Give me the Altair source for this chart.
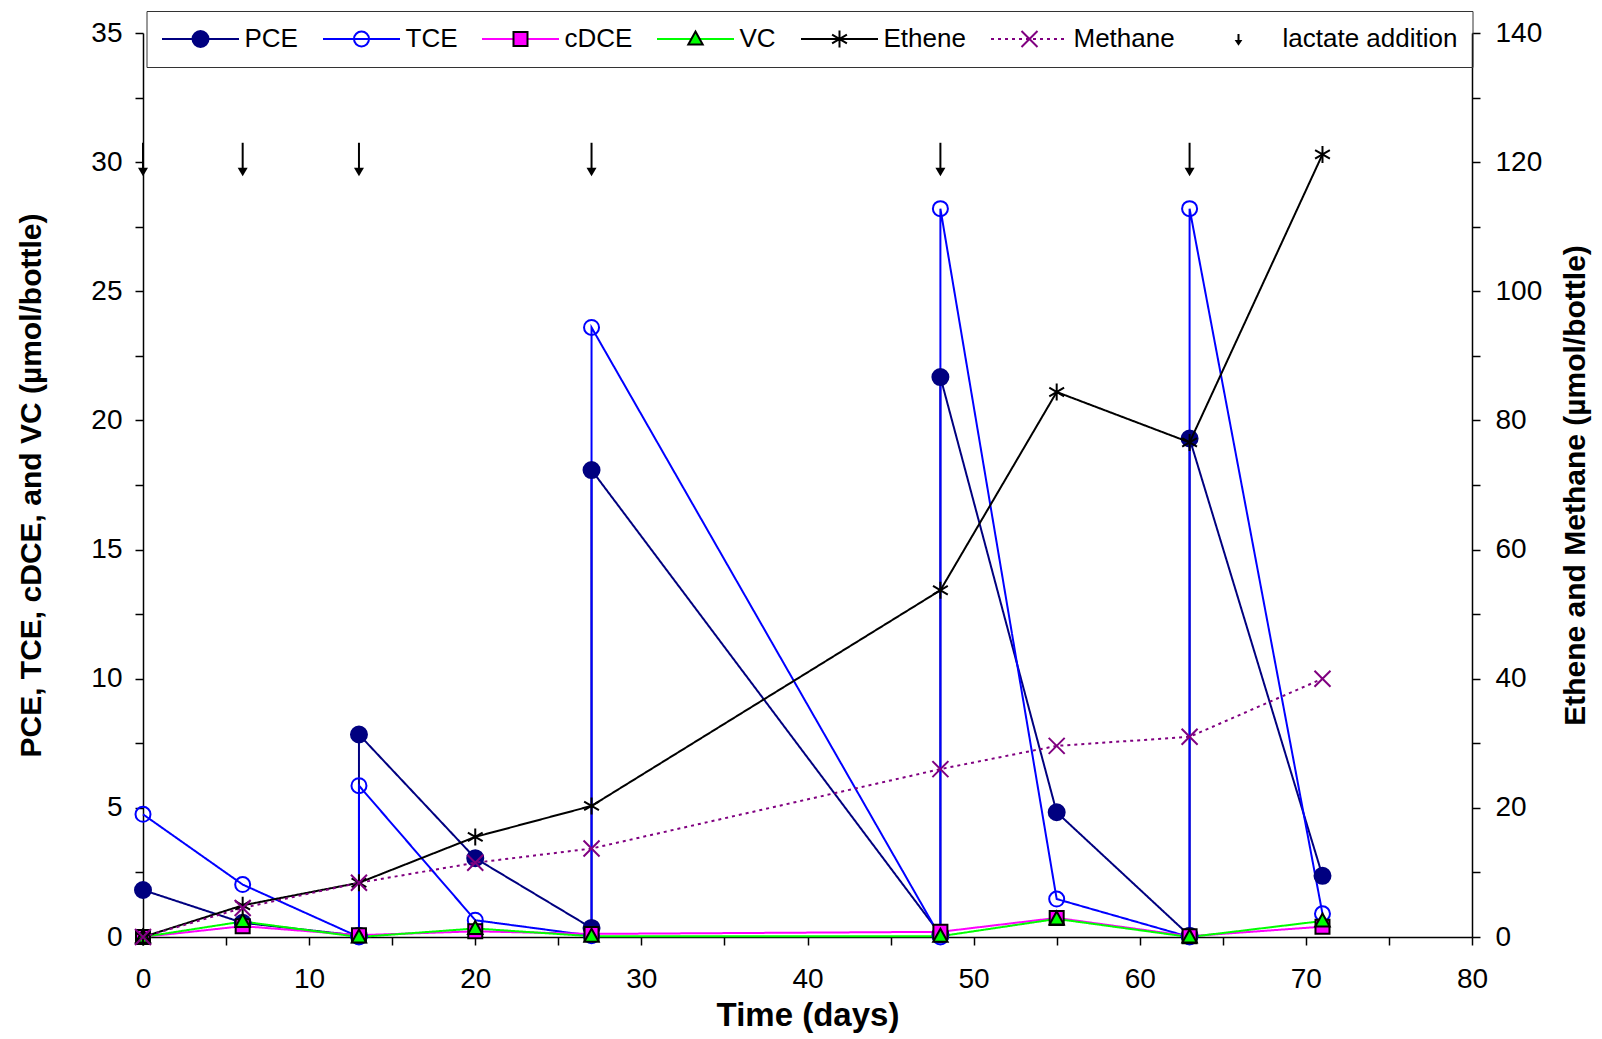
import altair as alt
import pandas as pd

# ---------------- data ----------------
series_names = ["PCE", "TCE", "cDCE", "VC", "Ethene", "Methane", "lactate addition"]

pce_days = [0, 6, 13, 13, 20, 27, 27, 48, 48, 55, 63, 63, 71]
pce_vals = [1.82, 0.55, 0.05, 7.84, 3.05, 0.35, 18.08, 0.1, 21.68, 4.83, 0.05, 19.3, 2.37]

tce_days = [0, 6, 13, 13, 20, 27, 27, 48, 48, 55, 63, 63, 71]
tce_vals = [4.75, 2.03, 0.0, 5.86, 0.65, 0.05, 23.6, 0.0, 28.2, 1.47, 0.0, 28.2, 0.9]

cdce_days = [0, 6, 13, 20, 27, 48, 55, 63, 71]
cdce_vals = [0.0, 0.42, 0.07, 0.22, 0.12, 0.2, 0.74, 0.03, 0.4]

vc_days = [0, 6, 13, 20, 27, 48, 55, 63, 71]
vc_vals = [0.0, 0.6, 0.0, 0.33, 0.03, 0.03, 0.7, 0.0, 0.62]

ethene_days = [0, 6, 13, 20, 27, 48, 55, 63, 71]
ethene_vals = [0.0, 4.9, 8.4, 15.5, 20.3, 53.7, 84.4, 76.6, 121.2]

methane_days = [0, 6, 13, 20, 27, 48, 55, 63, 71]
methane_vals = [0.0, 4.5, 8.4, 11.5, 13.7, 26.0, 29.6, 31.0, 40.0]

lactate_days = [0, 6, 13, 27, 48, 63]

x_ticks = list(range(0, 81, 5))
y_left_ticks = [i * 2.5 for i in range(15)]
y_right_ticks = list(range(0, 141, 10))


def long_table(parts):
    frames = []
    for name, days, vals in parts:
        frames.append(pd.DataFrame({"series": name, "day": days, "value": vals,
                                    "step": list(range(len(days)))}))
    return pd.concat(frames, ignore_index=True)


left_df = long_table([("PCE", pce_days, pce_vals), ("TCE", tce_days, tce_vals),
                      ("cDCE", cdce_days, cdce_vals), ("VC", vc_days, vc_vals)])
right_df = long_table([("Ethene", ethene_days, ethene_vals),
                       ("Methane", methane_days, methane_vals)])
arrow_df = pd.DataFrame({"day": lactate_days})

# ---------------- styles ----------------
FONT = "Liberation Sans"
NAVY, BLUE, MAG, LIME, BLACK, PURPLE = "#000080", "#0000FF", "#FF00FF", "#00FF00", "#000000", "#800080"

line_colors = [NAVY, BLUE, MAG, LIME, BLACK, PURPLE]
line_dashes = [[1, 0], [1, 0], [1, 0], [1, 0], [1, 0], [3, 4]]

EXT = "M-3.85,0M3.85,0"  # invisible extent so legend entries align with line legend
marker_paths = [
    EXT + "M0.8,0A0.8,0.8,0,1,1,-0.8,0A0.8,0.8,0,1,1,0.8,0Z",
    EXT + "M0.75,0A0.75,0.75,0,1,1,-0.75,0A0.75,0.75,0,1,1,0.75,0Z",
    EXT + "M-0.7,-0.7H0.7V0.7H-0.7Z",
    EXT + "M0,-0.75L0.72,0.55H-0.72Z",
    EXT + "M0,-0.85V0.85M-0.74,-0.43L0.74,0.43M-0.74,0.43L0.74,-0.43",
    EXT + "M-0.8,-0.8L0.8,0.8M-0.8,0.8L0.8,-0.8",
    EXT + "M0,-0.5V0.5M-0.2,0.2L0,0.5L0.2,0.2Z",
]
marker_fills = [NAVY, "transparent", MAG, LIME, "transparent", "transparent", BLACK]
marker_strokes = [NAVY, BLUE, BLACK, BLACK, BLACK, PURPLE, BLACK]

legend_common = dict(orient="none", legendX=3.5, legendY=-22, direction="horizontal",
                     symbolSize=400, symbolStrokeWidth=2, symbolOffset=26, labelOffset=31,
                     labelFontSize=26, labelFont=FONT, columnPadding=20, padding=15,
                     title=None, labelLimit=400)
line_legend = alt.Legend(columns=6, labelColor="transparent", symbolType="M-3.85,0H3.85",
                         zindex=0, **legend_common)
point_legend = alt.Legend(columns=7, labelColor="black", strokeColor="#333333",
                          zindex=1, **legend_common)

x_scale = alt.Scale(domain=[0, 80], nice=False, zero=False)
yl_scale = alt.Scale(domain=[0, 35], nice=False)
yr_scale = alt.Scale(domain=[0, 140], nice=False)

x_axis = alt.Axis(values=x_ticks, labelExpr="datum.value % 10 === 0 ? datum.label : ''",
                  title="Time (days)", labelPadding=20, titlePadding=6, labelFlush=False,
                  titleFontSize=33)
yl_axis = alt.Axis(values=y_left_ticks, labelExpr="datum.value % 5 === 0 ? datum.label : ''",
                   title="PCE, TCE, cDCE, and VC (\u00b5mol/bottle)", labelPadding=13,
                   titlePadding=44, orient="left", labelFlush=False)
yr_axis = alt.Axis(values=y_right_ticks, labelExpr="datum.value % 20 === 0 ? datum.label : ''",
                   title="Ethene and Methane (\u00b5mol/bottle)", orient="right",
                   labelPadding=15, titlePadding=19, titleAngle=270, titleBaseline="top",
                   labelFlush=False)

color_enc = alt.Color("series:N", scale=alt.Scale(domain=series_names[:6], range=line_colors),
                      legend=line_legend)
dash_enc = alt.StrokeDash("series:N", scale=alt.Scale(domain=series_names[:6], range=line_dashes),
                          legend=line_legend)
shape_enc = alt.Shape("series:N", scale=alt.Scale(domain=series_names, range=marker_paths),
                      legend=point_legend)
fill_enc = alt.Fill("series:N", scale=alt.Scale(domain=series_names, range=marker_fills),
                    legend=point_legend)
stroke_enc = alt.Stroke("series:N", scale=alt.Scale(domain=series_names, range=marker_strokes),
                        legend=point_legend)

x_enc = alt.X("day:Q", scale=x_scale, axis=x_axis)
yl_enc = alt.Y("value:Q", scale=yl_scale, axis=yl_axis)
yr_enc = alt.Y("value:Q", scale=yr_scale, axis=yr_axis)

# ---------------- left-axis layers ----------------
left_lines = alt.Chart(left_df).mark_line(strokeWidth=2).encode(
    x=x_enc, y=yl_enc, color=color_enc, strokeDash=dash_enc, order=alt.Order("step:Q"))

left_points = alt.Chart(left_df).mark_point(filled=True, opacity=1, size=400, strokeWidth=2).encode(
    x=x_enc, y=yl_enc, shape=shape_enc, fill=fill_enc, stroke=stroke_enc)

arrow_rule = alt.Chart(arrow_df).mark_rule(color="black", strokeWidth=2).encode(
    x=x_enc,
    y=alt.YDatum(30.75, scale=yl_scale, axis=yl_axis),
    y2=alt.Y2Datum(29.75))

arrow_head = alt.Chart(arrow_df).mark_point(shape="triangle-down", size=100, filled=True,
                                             color="black", opacity=1).encode(
    x=x_enc,
    y=alt.YDatum(29.62, scale=yl_scale, axis=yl_axis))

# ---------------- right-axis layers ----------------
right_lines = alt.Chart(right_df).mark_line(strokeWidth=2).encode(
    x=x_enc, y=yr_enc, color=color_enc, strokeDash=dash_enc, order=alt.Order("step:Q"))

right_points = alt.Chart(right_df).mark_point(filled=True, opacity=1, size=400, strokeWidth=2).encode(
    x=x_enc, y=yr_enc, shape=shape_enc, fill=fill_enc, stroke=stroke_enc)

left = alt.layer(left_lines, left_points, arrow_rule, arrow_head)
right = alt.layer(right_lines, right_points)

chart = alt.layer(left, right).resolve_scale(y="independent").properties(
    width=1329, height=904,
    autosize=alt.AutoSizeParams(type="none"),
    padding={"left": 135, "top": 25, "right": 120, "bottom": 100},
).configure_view(stroke=None).configure_axis(
    labelFont=FONT, titleFont=FONT, labelFontSize=28, titleFontSize=30,
    titleFontWeight="bold", labelColor="black", titleColor="black",
    domainColor="black", tickColor="black", domainWidth=1.5, tickWidth=1.5,
    tickSize=8, grid=False, labelOverlap=False,
).configure_legend(labelFont=FONT)

chart.save("out.html", embed_options={"renderer": "svg", "actions": False})
